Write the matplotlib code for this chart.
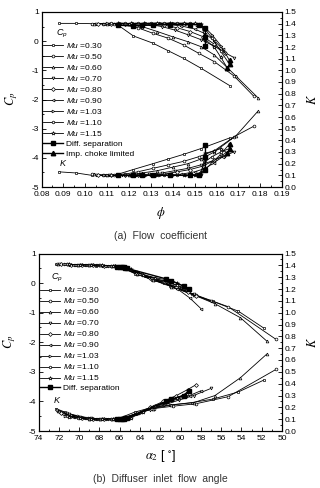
import matplotlib
matplotlib.use("Agg")
import matplotlib.pyplot as plt
from matplotlib.ticker import MultipleLocator, FormatStrFormatter

plt.rcParams['font.family'] = ['Liberation Sans', 'DejaVu Sans']
plt.rcParams['axes.unicode_minus'] = False
plt.rcParams['mathtext.fontset'] = 'custom'
plt.rcParams['mathtext.rm'] = 'Liberation Sans'
plt.rcParams['mathtext.it'] = 'Liberation Sans:italic'

mu_labels = ["0.30", "0.50", "0.60", "0.70", "0.80", "0.90", "1.03", "1.10", "1.15"]
mu_markers = ['s', 'o', '^', 'v', 'D', '<', '>', 'h', '*']

# ---------------- Panel (a): flow coefficient ----------------
phi_030 = [0.088, 0.096, 0.103, 0.109, 0.115, 0.122, 0.131, 0.138, 0.145, 0.153, 0.166]
cpa_030 = [0.61, 0.61, 0.60, 0.60, 0.55, 0.18, -0.07, -0.33, -0.59, -0.93, -1.52]
ka_030 = [0.13, 0.12, 0.10, 0.10, 0.11, 0.15, 0.20, 0.24, 0.28, 0.33, 0.42]

phi_050 = [0.103, 0.108, 0.113, 0.118, 0.124, 0.131, 0.138, 0.145, 0.152, 0.159, 0.168, 0.177]
cpa_050 = [0.60, 0.60, 0.60, 0.58, 0.46, 0.27, 0.10, -0.13, -0.42, -0.70, -1.19, -1.88]
ka_050 = [0.11, 0.10, 0.10, 0.11, 0.13, 0.16, 0.19, 0.22, 0.26, 0.31, 0.43, 0.52]

phi_060 = [0.104, 0.110, 0.115, 0.120, 0.126, 0.133, 0.140, 0.147, 0.153, 0.159, 0.169, 0.179]
cpa_060 = [0.60, 0.60, 0.60, 0.59, 0.50, 0.33, 0.15, -0.02, -0.19, -0.47, -1.20, -1.94]
ka_060 = [0.11, 0.10, 0.10, 0.10, 0.12, 0.14, 0.17, 0.20, 0.24, 0.30, 0.44, 0.65]

phi_070 = [0.105, 0.111, 0.117, 0.123, 0.129, 0.135, 0.141, 0.147, 0.153, 0.159, 0.164, 0.168]
cpa_070 = [0.60, 0.60, 0.60, 0.60, 0.58, 0.50, 0.38, 0.22, 0.05, -0.17, -0.40, -0.56]
ka_070 = [0.10, 0.10, 0.10, 0.10, 0.11, 0.12, 0.14, 0.16, 0.19, 0.23, 0.27, 0.30]

phi_080 = [0.106, 0.112, 0.118, 0.124, 0.130, 0.136, 0.142, 0.148, 0.154, 0.159, 0.164]
cpa_080 = [0.60, 0.60, 0.60, 0.60, 0.59, 0.55, 0.46, 0.33, 0.15, -0.10, -0.42]
ka_080 = [0.10, 0.10, 0.10, 0.10, 0.10, 0.11, 0.13, 0.15, 0.18, 0.23, 0.28]

phi_090 = [0.108, 0.114, 0.120, 0.126, 0.132, 0.138, 0.144, 0.150, 0.155, 0.159, 0.163]
cpa_090 = [0.60, 0.60, 0.60, 0.60, 0.60, 0.58, 0.52, 0.42, 0.25, 0.02, -0.28]
ka_090 = [0.10, 0.10, 0.10, 0.10, 0.10, 0.10, 0.11, 0.13, 0.16, 0.21, 0.26]

phi_103 = [0.110, 0.116, 0.122, 0.128, 0.134, 0.140, 0.146, 0.151, 0.155, 0.158, 0.162, 0.166]
cpa_103 = [0.61, 0.61, 0.61, 0.61, 0.61, 0.61, 0.60, 0.56, 0.45, 0.22, -0.15, -0.66]
ka_103 = [0.10, 0.10, 0.10, 0.10, 0.10, 0.10, 0.10, 0.11, 0.15, 0.21, 0.28, 0.37]

phi_110 = [0.112, 0.118, 0.124, 0.130, 0.136, 0.142, 0.148, 0.152, 0.155, 0.158, 0.162, 0.166]
cpa_110 = [0.61, 0.61, 0.61, 0.61, 0.61, 0.61, 0.61, 0.59, 0.40, 0.10, -0.35, -0.79]
ka_110 = [0.10, 0.10, 0.10, 0.10, 0.10, 0.10, 0.10, 0.10, 0.22, 0.26, 0.30, 0.33]

phi_115 = [0.115, 0.121, 0.127, 0.133, 0.139, 0.145, 0.150, 0.153, 0.155, 0.159, 0.162, 0.165]
cpa_115 = [0.61, 0.61, 0.61, 0.62, 0.62, 0.62, 0.61, 0.60, 0.05, -0.20, -0.55, -0.92]
ka_115 = [0.10, 0.10, 0.10, 0.10, 0.10, 0.10, 0.10, 0.11, 0.29, 0.31, 0.33, 0.29]

diff_phi = [0.115, 0.122, 0.126, 0.131, 0.139, 0.148, 0.152, 0.155, 0.155, 0.155]
diff_cpa = [0.55, 0.52, 0.54, 0.55, 0.57, 0.57, 0.57, 0.45, 0.15, -0.15]
diff_ka = [0.10, 0.10, 0.10, 0.10, 0.10, 0.10, 0.10, 0.15, 0.26, 0.36]

choke_phi = [0.166, 0.166, 0.165]
choke_cpa = [-0.66, -0.79, -0.92]
choke_ka = [0.37, 0.33, 0.29]

# ---------------- Panel (b): diffuser inlet flow angle ----------------
al_030 = [72.3, 71.4, 70.4, 69.4, 68.3, 67.2, 66.0, 64.5, 62.8, 61.0, 58.9, 56.8, 54.3, 51.8]
cpb_030 = [0.63, 0.63, 0.62, 0.61, 0.59, 0.58, 0.55, 0.32, 0.12, -0.10, -0.38, -0.62, -0.95, -1.52]
kb_030 = [0.19, 0.16, 0.13, 0.11, 0.10, 0.10, 0.11, 0.16, 0.20, 0.22, 0.24, 0.27, 0.33, 0.43]

al_050 = [72.2, 71.2, 70.2, 69.1, 68.0, 66.9, 65.8, 64.3, 62.6, 60.7, 58.5, 55.3, 50.6]
cpb_050 = [0.63, 0.63, 0.62, 0.61, 0.60, 0.58, 0.54, 0.30, 0.10, -0.12, -0.40, -0.80, -1.90]
kb_050 = [0.18, 0.15, 0.13, 0.11, 0.10, 0.10, 0.10, 0.15, 0.19, 0.21, 0.23, 0.29, 0.52]

al_060 = [72.1, 71.1, 70.1, 69.0, 67.9, 66.8, 65.7, 64.3, 62.7, 60.9, 58.7, 56.6, 54.1, 51.5]
cpb_060 = [0.63, 0.63, 0.62, 0.61, 0.60, 0.58, 0.53, 0.30, 0.10, -0.12, -0.40, -0.70, -1.17, -1.96]
kb_060 = [0.17, 0.14, 0.12, 0.10, 0.10, 0.10, 0.11, 0.15, 0.19, 0.22, 0.24, 0.30, 0.45, 0.65]

al_070 = [72.0, 71.0, 69.9, 68.8, 67.7, 66.6, 65.6, 64.4, 63.0, 61.6, 60.2, 58.7, 57.0]
cpb_070 = [0.63, 0.62, 0.61, 0.60, 0.59, 0.57, 0.52, 0.36, 0.18, 0.03, -0.15, -0.38, -0.62]
kb_070 = [0.16, 0.14, 0.12, 0.11, 0.10, 0.10, 0.11, 0.14, 0.18, 0.22, 0.26, 0.30, 0.36]

al_080 = [71.8, 70.8, 69.7, 68.6, 67.5, 66.5, 65.5, 64.3, 63.0, 61.7, 60.4, 59.3, 58.5]
cpb_080 = [0.63, 0.62, 0.61, 0.60, 0.59, 0.57, 0.51, 0.34, 0.17, 0.02, -0.14, -0.30, -0.45]
kb_080 = [0.15, 0.13, 0.11, 0.10, 0.10, 0.10, 0.11, 0.15, 0.20, 0.25, 0.30, 0.35, 0.39]

al_090 = [71.6, 70.6, 69.5, 68.4, 67.4, 66.4, 65.4, 64.2, 62.9, 61.6, 60.3, 59.1, 58.0]
cpb_090 = [0.63, 0.62, 0.61, 0.60, 0.59, 0.57, 0.50, 0.33, 0.16, 0.00, -0.20, -0.50, -0.86]
kb_090 = [0.14, 0.12, 0.11, 0.10, 0.10, 0.10, 0.11, 0.15, 0.19, 0.23, 0.27, 0.30, 0.34]

al_103 = [71.4, 70.3, 69.2, 68.1, 67.1, 66.1, 65.2, 64.0, 62.8, 61.5, 60.3, 59.2]
cpb_103 = [0.63, 0.62, 0.61, 0.60, 0.59, 0.56, 0.49, 0.32, 0.17, 0.05, -0.08, -0.20]
kb_103 = [0.13, 0.12, 0.11, 0.10, 0.10, 0.10, 0.11, 0.15, 0.20, 0.24, 0.28, 0.33]

al_110 = [71.2, 70.1, 69.0, 67.9, 66.9, 65.9, 65.0, 63.8, 62.6, 61.4, 60.3, 59.4]
cpb_110 = [0.63, 0.62, 0.61, 0.60, 0.58, 0.55, 0.47, 0.30, 0.16, 0.06, -0.08, -0.25]
kb_110 = [0.13, 0.11, 0.10, 0.10, 0.10, 0.10, 0.11, 0.16, 0.21, 0.25, 0.28, 0.31]

al_115 = [71.0, 69.9, 68.8, 67.7, 66.7, 65.8, 64.9, 63.7, 62.5, 61.2, 60.3, 59.5]
cpb_115 = [0.63, 0.62, 0.61, 0.60, 0.58, 0.54, 0.46, 0.29, 0.18, 0.10, 0.00, -0.15]
kb_115 = [0.12, 0.11, 0.10, 0.10, 0.10, 0.10, 0.11, 0.16, 0.21, 0.25, 0.28, 0.30]

diffb_al = [66.3, 66.0, 65.8, 65.6, 65.5, 65.3, 61.4, 60.9, 59.7, 59.2]
diffb_cp = [0.56, 0.55, 0.54, 0.53, 0.52, 0.50, 0.14, 0.08, -0.10, -0.20]
diffb_k = [0.10, 0.10, 0.10, 0.10, 0.11, 0.11, 0.25, 0.27, 0.30, 0.34]

series_a = [(phi_030, cpa_030, ka_030), (phi_050, cpa_050, ka_050), (phi_060, cpa_060, ka_060),
            (phi_070, cpa_070, ka_070), (phi_080, cpa_080, ka_080), (phi_090, cpa_090, ka_090),
            (phi_103, cpa_103, ka_103), (phi_110, cpa_110, ka_110), (phi_115, cpa_115, ka_115)]
series_b = [(al_030, cpb_030, kb_030), (al_050, cpb_050, kb_050), (al_060, cpb_060, kb_060),
            (al_070, cpb_070, kb_070), (al_080, cpb_080, kb_080), (al_090, cpb_090, kb_090),
            (al_103, cpb_103, kb_103), (al_110, cpb_110, kb_110), (al_115, cpb_115, kb_115)]

W, H = 320, 488
fig = plt.figure(figsize=(W / 100, H / 100), dpi=100)

LW = 0.6
MS = 2.0
FS_TICK = 6
FS_LEG = 6


def frame(x0, x1, y0, y1):
    return [x0 / W, 1 - y1 / H, (x1 - x0) / W, (y1 - y0) / H]


def style_axes(ax, ax2):
    ax.set_ylim(-5, 1)
    ax.yaxis.set_major_locator(MultipleLocator(1))
    ax.yaxis.set_minor_locator(MultipleLocator(0.5))
    ax2.set_ylim(0, 1.5)
    ax2.yaxis.set_major_locator(MultipleLocator(0.1))
    ax2.yaxis.set_minor_locator(MultipleLocator(0.05))
    ax2.yaxis.set_major_formatter(FormatStrFormatter('%.1f'))
    for a in (ax, ax2):
        a.tick_params(which='both', direction='in', width=0.6, labelsize=FS_TICK, pad=2)
        a.tick_params(which='major', length=3)
        a.tick_params(which='minor', length=1.6)
        for s in a.spines.values():
            s.set_linewidth(0.8)
    ax.tick_params(axis='x', pad=3)
    ax.tick_params(which='both', top=False, right=False)
    ax2.tick_params(which='both', top=False, left=False)


def draw_panel(ax, ax2, series, dsep, choke, with_choke):
    handles = []
    for (x, cp, k), m, lab in zip(series, mu_markers, mu_labels):
        ms = MS + 0.8 if m == '*' else MS
        h, = ax.plot(x, cp, '-', color='black', lw=LW, marker=m, ms=ms,
                     mfc='white', mec='black', mew=0.5, label=r'$Mu$ =' + lab)
        ax2.plot(x, k, '-', color='black', lw=LW, marker=m, ms=ms,
                 mfc='white', mec='black', mew=0.5)
        handles.append(h)
    dx, dcp, dk = dsep
    h, = ax.plot(dx, dcp, '-', color='black', lw=1.0, marker='s', ms=2.8,
                 mfc='black', mec='black', label='Diff. separation')
    ax2.plot(dx, dk, '-', color='black', lw=1.0, marker='s', ms=2.8, mfc='black', mec='black')
    handles.append(h)
    if with_choke:
        cx, ccp, ck = choke
        h, = ax.plot(cx, ccp, '-', color='black', lw=1.0, marker='^', ms=3.2,
                     mfc='black', mec='black', label='Imp. choke limited')
        ax2.plot(cx, ck, '-', color='black', lw=1.0, marker='^', ms=3.2, mfc='black', mec='black')
        handles.append(h)
    return handles


# ---- Panel (a)
axA = fig.add_axes(frame(41.5, 282, 12, 187))
axA2 = axA.twinx()
hA = draw_panel(axA, axA2, series_a, (diff_phi, diff_cpa, diff_ka),
                (choke_phi, choke_cpa, choke_ka), True)
axA.set_xlim(0.08, 0.19)
axA.xaxis.set_major_locator(MultipleLocator(0.01))
axA.xaxis.set_minor_locator(MultipleLocator(0.005))
axA.xaxis.set_major_formatter(FormatStrFormatter('%.2f'))
style_axes(axA, axA2)
axA.legend(handles=hA, loc='upper left', bbox_to_anchor=(0.005, 0.835), frameon=False,
           fontsize=FS_LEG, handlelength=2.4, handletextpad=0.4, labelspacing=0.24,
           borderpad=0, borderaxespad=0)
axA.text(0.062, 0.875, r'$C_p$', transform=axA.transAxes, fontsize=6.5, va='center')
axA.text(0.072, 0.135, r'$K$', transform=axA.transAxes, fontsize=6.5, va='center')
fig.text(12 / W, 1 - 99 / H, r'$C_p$', rotation=90, ha='center', va='center',
         fontsize=9, math_fontfamily='stix')
fig.text(313 / W, 1 - 99 / H, r'$K$', rotation=90, ha='center', va='center',
         fontsize=9, math_fontfamily='stix')
fig.text(161 / W, 1 - 213 / H, r'$\phi$', ha='center', va='center',
         fontsize=9, math_fontfamily='stix')
fig.text(160 / W, 1 - 236 / H, '(a)  Flow  coefficient', ha='center', va='center',
         fontsize=7.5, color='#333333')

# ---- Panel (b)
axB = fig.add_axes(frame(38.5, 282, 253.5, 431))
axB2 = axB.twinx()
hB = draw_panel(axB, axB2, series_b, (diffb_al, diffb_cp, diffb_k), None, False)
axB.set_xlim(74, 50)
axB.xaxis.set_major_locator(MultipleLocator(2))
axB.xaxis.set_minor_locator(MultipleLocator(1))
style_axes(axB, axB2)
axB.legend(handles=hB, loc='upper left', bbox_to_anchor=(0.005, 0.82), frameon=False,
           fontsize=FS_LEG, handlelength=2.4, handletextpad=0.4, labelspacing=0.24,
           borderpad=0, borderaxespad=0)
axB.text(0.05, 0.86, r'$C_p$', transform=axB.transAxes, fontsize=6.5, va='center')
axB.text(0.06, 0.175, r'$K$', transform=axB.transAxes, fontsize=6.5, va='center')
fig.text(10 / W, 1 - 342 / H, r'$C_p$', rotation=90, ha='center', va='center',
         fontsize=9, math_fontfamily='stix')
fig.text(313 / W, 1 - 342 / H, r'$K$', rotation=90, ha='center', va='center',
         fontsize=9, math_fontfamily='stix')
fig.text(160 / W, 1 - 456 / H, r'$\alpha_2$ [ $^{\circ}$]', ha='center', va='center',
         fontsize=9, math_fontfamily='stix')
fig.text(160 / W, 1 - 479 / H, '(b)  Diffuser  inlet  flow  angle', ha='center', va='center',
         fontsize=7.5, color='#333333')

fig.savefig('out.png', dpi=100)
